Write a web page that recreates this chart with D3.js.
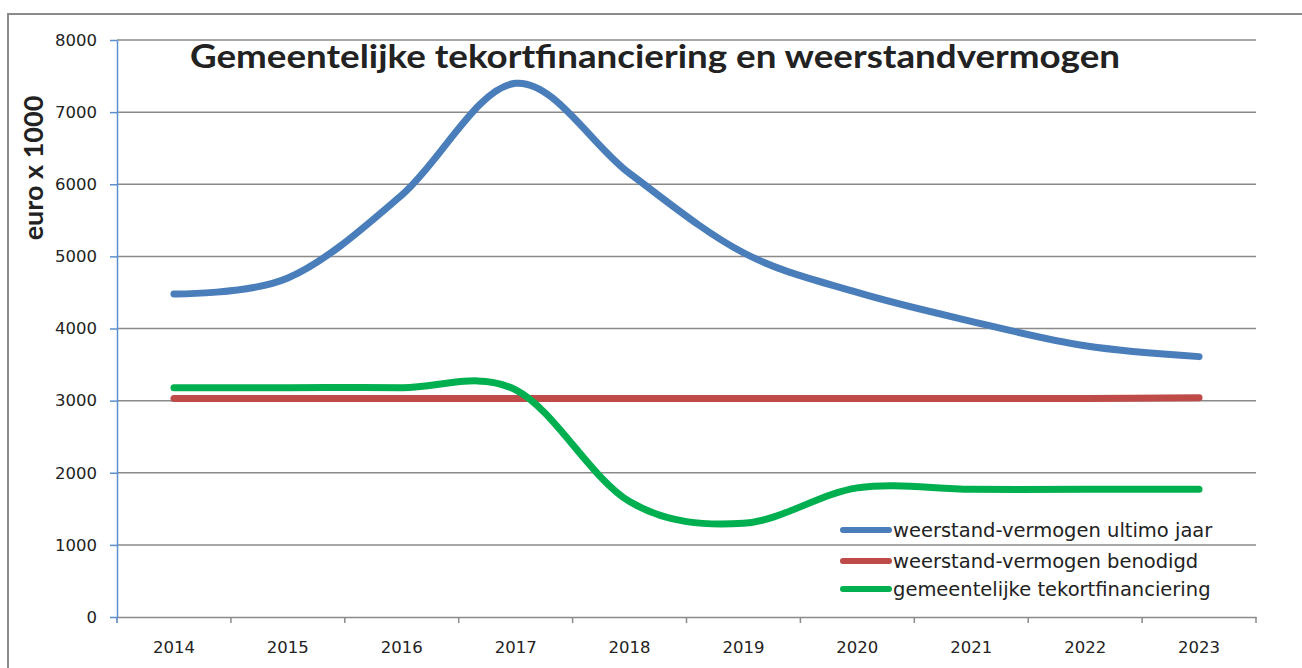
<!DOCTYPE html>
<html>
<head>
<meta charset="utf-8">
<title>Gemeentelijke tekortfinanciering en weerstandvermogen</title>
<script src="https://d3js.org/d3.v7.min.js"></script>
<style>
    body { margin: 0; background: #fff; }
    text { font-family: "DejaVu Sans", Verdana, sans-serif; fill: #222; }
</style>
</head>
<body>
<div id="chart"></div>
<script>
    // data
    var years = ["2014", "2015", "2016", "2017", "2018", "2019", "2020", "2021", "2022", "2023"];
    var ultimo = [4480, 4700, 5850, 7400, 6150, 5050, 4500, 4100, 3760, 3610];
    var benodigd = [3030, 3030, 3030, 3030, 3030, 3030, 3030, 3030, 3030, 3040];
    var tekort = [3180, 3180, 3180, 3150, 1600, 1300, 1790, 1770, 1770, 1770];
    var yTicks = [0, 1000, 2000, 3000, 4000, 5000, 6000, 7000, 8000];

    var seriesNames = ["weerstand-vermogen ultimo jaar", "weerstand-vermogen benodigd", "gemeentelijke tekortfinanciering"];
    var seriesColors = ["#4a7ebb", "#be4b48", "#00b050"];
    var seriesValues = [ultimo, benodigd, tekort];

    var W = 1302, H = 668;
    var margin = { top: 40, right: 46, bottom: 51, left: 117 };
    var width = W - margin.left - margin.right,
        height = H - margin.top - margin.bottom;

    var svg = d3.select("#chart").append("svg")
        .attr("width", W)
        .attr("height", H);

    // outer frame (bottom and right are cut off in the original)
    svg.append("path")
        .attr("d", "M8," + H + "V14H" + W)
        .attr("fill", "none")
        .attr("stroke", "#8c8c8c")
        .attr("stroke-width", 2);

    var g = svg.append("g")
        .attr("transform", "translate(" + margin.left + "," + margin.top + ")");

    var x = d3.scaleBand().domain(years).range([0, width]).padding(0);
    var y = d3.scaleLinear().domain([0, 8000]).range([height, 0]);

    // gridlines
    g.append("g")
        .selectAll("line")
        .data(yTicks.slice(1))
        .enter().append("line")
        .attr("x1", 0).attr("x2", width)
        .attr("y1", function (d) { return y(d); })
        .attr("y2", function (d) { return y(d); })
        .attr("stroke", "#8a8a8a")
        .attr("stroke-width", 1.5);

    // x axis
    var xAxis = g.append("g")
        .attr("transform", "translate(0," + height + ")")
        .call(d3.axisBottom(x).tickSize(0).tickPadding(24));
    xAxis.select(".domain").attr("stroke", "#8a8a8a").attr("stroke-width", 1.5);
    xAxis.selectAll("text").style("font-size", "16.5px").attr("fill", "#222");
    // tick marks between categories
    xAxis.selectAll(".sep")
        .data(years.concat(["end"]))
        .enter().append("line")
        .attr("class", "sep")
        .attr("x1", function (d, i) { return i * x.step(); })
        .attr("x2", function (d, i) { return i * x.step(); })
        .attr("y1", 0).attr("y2", 6)
        .attr("stroke", function (d, i) { return i === 0 ? "#4a7ebb" : "#8a8a8a"; })
        .attr("stroke-width", 1.5);

    // y axis
    var yAxis = g.append("g")
        .call(d3.axisLeft(y).tickValues(yTicks).tickFormat(d3.format("d"))
            .tickSize(7).tickSizeOuter(0).tickPadding(13));
    yAxis.select(".domain").attr("stroke", "#5b8fd0").attr("stroke-width", 1.5);
    yAxis.selectAll(".tick line").attr("stroke", "#5b8fd0").attr("stroke-width", 1.5);
    yAxis.selectAll("text").style("font-size", "16.5px").attr("fill", "#222");

    // lines
    var line = d3.line()
        .x(function (d, i) { return x(years[i]) + x.bandwidth() / 2; })
        .y(function (d) { return y(d); })
        .curve(d3.curveCardinal.tension(0));

    // draw red first, then green, then blue on top
    [1, 2, 0].forEach(function (k) {
        g.append("path")
            .datum(seriesValues[k])
            .attr("d", line)
            .attr("fill", "none")
            .attr("stroke", seriesColors[k])
            .attr("stroke-width", 7)
            .attr("stroke-linecap", "round")
            .attr("stroke-linejoin", "round");
    });

    // title
    svg.append("text")
        .attr("x", 190)
        .attr("y", 68)
        .attr("textLength", 930)
        .attr("lengthAdjust", "spacingAndGlyphs")
        .style("font-family", "Lato, 'Open Sans', sans-serif")
        .style("font-weight", "bold")
        .style("font-size", "33px")
        .attr("fill", "#111")
        .text("Gemeentelijke tekortfinanciering en weerstandvermogen");

    // y axis title
    svg.append("text")
        .attr("transform", "translate(43,168)rotate(-90)")
        .attr("text-anchor", "middle")
        .style("font-family", "Lato, 'Open Sans', sans-serif")
        .style("font-weight", "bold")
        .style("font-size", "27px")
        .attr("fill", "#111")
        .text("euro x 1000");

    // legend
    var legend = svg.append("g").attr("transform", "translate(843,530)");
    var rowY = [0, 31, 59];
    seriesNames.forEach(function (name, i) {
        legend.append("line")
            .attr("x1", 0).attr("x2", 46)
            .attr("y1", rowY[i]).attr("y2", rowY[i])
            .attr("stroke", seriesColors[i])
            .attr("stroke-width", 6)
            .attr("stroke-linecap", "round");
        legend.append("text")
            .attr("x", 50)
            .attr("y", rowY[i])
            .attr("dy", "0.35em")
            .style("font-size", "19.5px")
            .attr("fill", "#111")
            .text(name);
    });
</script>
</body>
</html>
